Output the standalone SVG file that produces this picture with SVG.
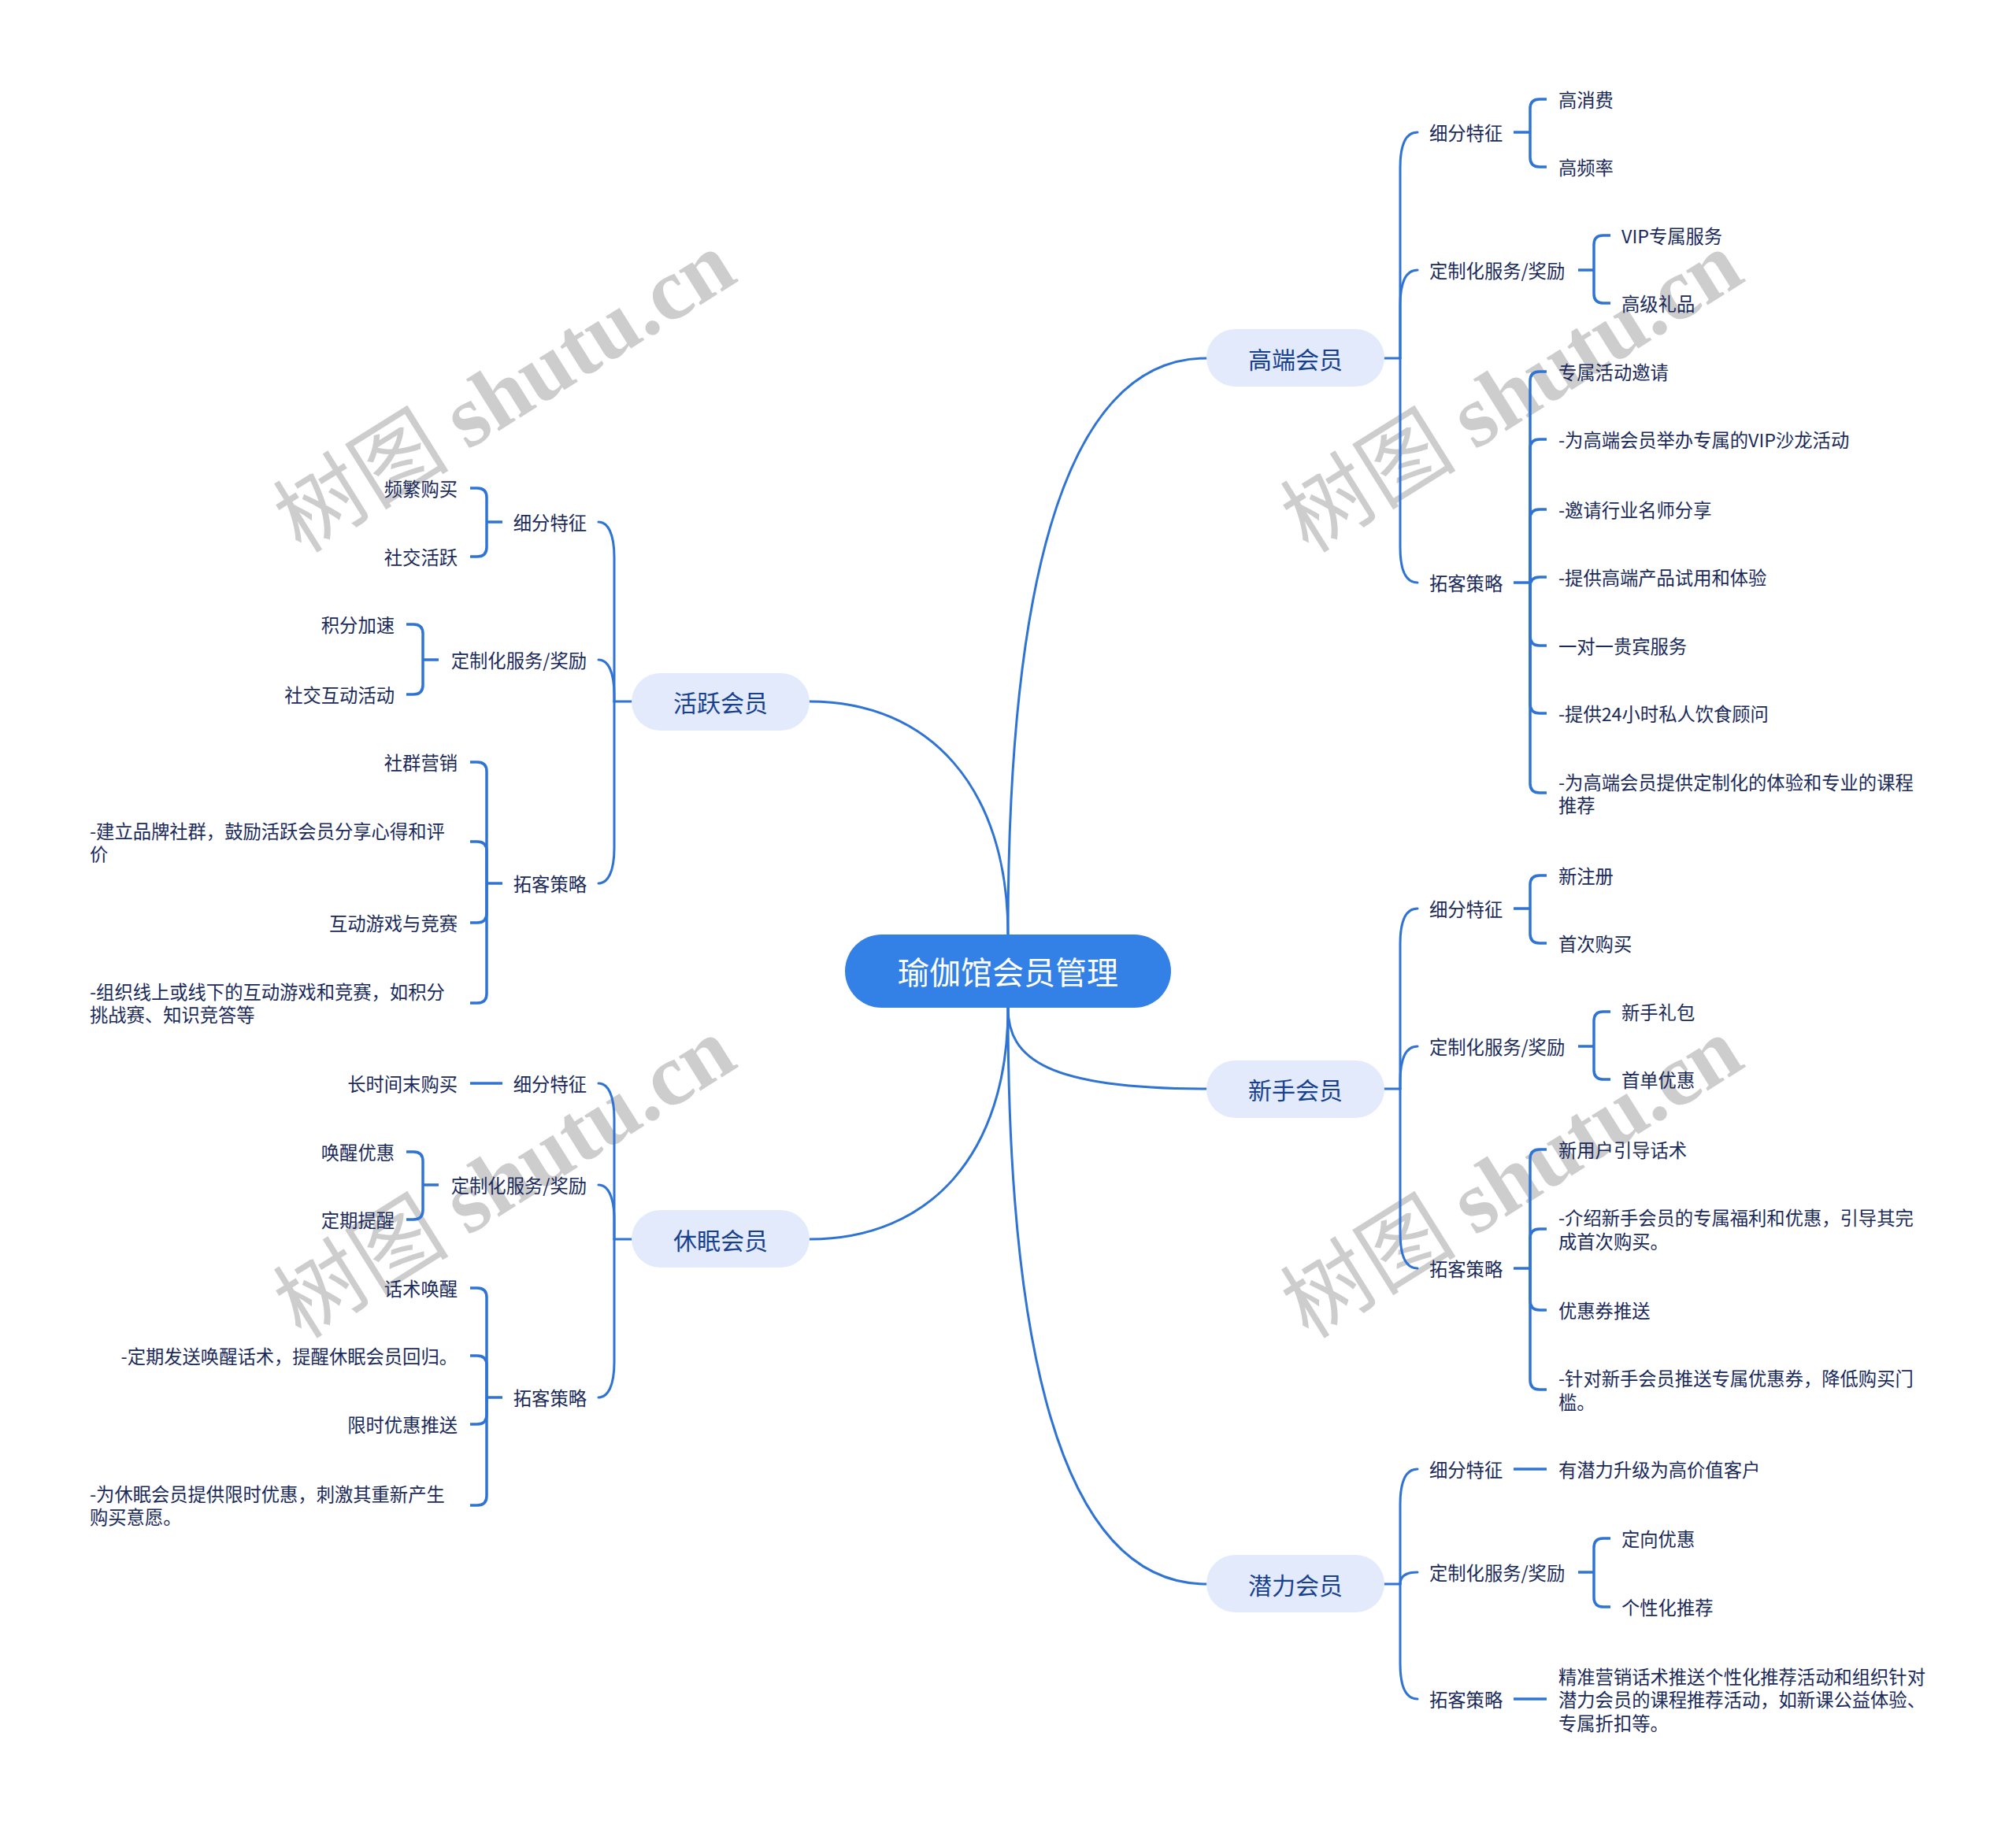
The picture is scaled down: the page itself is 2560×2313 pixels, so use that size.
<svg xmlns="http://www.w3.org/2000/svg" width="2560" height="2313" viewBox="0 0 2560 2313">
<style>
.wm{font-family:"Noto Sans CJK SC","Liberation Serif",serif;font-size:112px;fill:#cdcdcd}
.wm2{font-family:"Liberation Serif",serif;font-weight:bold}
.c{fill:none;stroke:#2f74d4;stroke-width:3;stroke-linecap:round}
.b{fill:none;stroke:#2f74d4;stroke-width:3.5;stroke-linecap:butt}
.root rect{fill:#3381e6}
.root text{font-family:"Noto Sans CJK SC","Noto Sans",sans-serif;font-size:40px;fill:#ffffff;text-anchor:middle;dominant-baseline:central}
.l1 rect{fill:#e2eafb}
.l1 text{font-family:"Noto Sans CJK SC","Noto Sans",sans-serif;font-size:30px;fill:#17418f;text-anchor:middle;dominant-baseline:central}
.t{font-family:"Noto Sans CJK SC","Noto Sans",sans-serif;font-size:23.3px;fill:#1a2a5a;dominant-baseline:central}
.e{text-anchor:end}
</style>
<rect width="2560" height="2313" fill="#ffffff"/>
<g id="watermarks">
<text class="wm" x="661" y="530" text-anchor="middle" transform="rotate(-32 661 530)">树图 <tspan class="wm2">shutu.cn</tspan></text>
<text class="wm" x="1940" y="530" text-anchor="middle" transform="rotate(-32 1940 530)">树图 <tspan class="wm2">shutu.cn</tspan></text>
<text class="wm" x="661" y="1528" text-anchor="middle" transform="rotate(-32 661 1528)">树图 <tspan class="wm2">shutu.cn</tspan></text>
<text class="wm" x="1940" y="1528" text-anchor="middle" transform="rotate(-32 1940 1528)">树图 <tspan class="wm2">shutu.cn</tspan></text>
</g>
<g id="connectors">
<path class="c" d="M1280,1187 C1280,780 1340,455 1532,455"/>
<path class="c" d="M1280,1280 C1280,1345 1330,1383 1532,1383"/>
<path class="c" d="M1280,1280 C1280,1690 1340,2012 1532,2012"/>
<path class="c" d="M1028,891 C1180,891 1280,1000 1280,1187"/>
<path class="c" d="M1028,1574 C1180,1574 1280,1467 1280,1280"/>
<path class="c" d="M1758,455 H1778"/>
<path class="c" d="M1778,455 L1778,213 C1778,183 1786,168 1800,168"/>
<path class="c" d="M1778,455 L1778,388 C1778,358 1786,343 1800,343"/>
<path class="c" d="M1778,455 L1778,695 C1778,725 1786,740 1800,740"/>
<path class="b" d="M1922,168 H1943"/>
<path class="b" d="M1943,168 V138 Q1943,126 1955,126 H1964"/>
<path class="b" d="M1943,168 V200 Q1943,212 1955,212 H1964"/>
<path class="b" d="M2004,343 H2024"/>
<path class="b" d="M2024,343 V311 Q2024,299 2036,299 H2045"/>
<path class="b" d="M2024,343 V373 Q2024,385 2036,385 H2045"/>
<path class="b" d="M1922,740 H1943"/>
<path class="b" d="M1943,740 V484 Q1943,472 1955,472 H1964"/>
<path class="b" d="M1943,740 V570 Q1943,558 1955,558 H1964"/>
<path class="b" d="M1943,740 V659 Q1943,647 1955,647 H1964"/>
<path class="b" d="M1943,740 V745 Q1943,733 1955,733 H1964"/>
<path class="b" d="M1943,740 V808 Q1943,820 1955,820 H1964"/>
<path class="b" d="M1943,740 V894 Q1943,906 1955,906 H1964"/>
<path class="b" d="M1943,740 V995 Q1943,1007 1955,1007 H1964"/>
<path class="c" d="M1758,1383 H1778"/>
<path class="c" d="M1778,1383 L1778,1199 C1778,1169 1786,1154 1800,1154"/>
<path class="c" d="M1778,1383 L1778,1374 C1778,1344 1786,1329 1800,1329"/>
<path class="c" d="M1778,1383 L1778,1566 C1778,1596 1786,1611 1800,1611"/>
<path class="b" d="M1922,1154 H1943"/>
<path class="b" d="M1943,1154 V1124 Q1943,1112 1955,1112 H1964"/>
<path class="b" d="M1943,1154 V1186 Q1943,1198 1955,1198 H1964"/>
<path class="b" d="M2004,1329 H2024"/>
<path class="b" d="M2024,1329 V1297 Q2024,1285 2036,1285 H2045"/>
<path class="b" d="M2024,1329 V1359 Q2024,1371 2036,1371 H2045"/>
<path class="b" d="M1922,1611 H1943"/>
<path class="b" d="M1943,1611 V1472 Q1943,1460 1955,1460 H1964"/>
<path class="b" d="M1943,1611 V1573 Q1943,1561 1955,1561 H1964"/>
<path class="b" d="M1943,1611 V1652 Q1943,1664 1955,1664 H1964"/>
<path class="b" d="M1943,1611 V1753 Q1943,1765 1955,1765 H1964"/>
<path class="c" d="M1758,2012 H1778"/>
<path class="c" d="M1778,2012 L1778,1911 C1778,1881 1786,1866 1800,1866"/>
<path class="c" d="M1778,2012 C1778,2002 1786,1997 1800,1997"/>
<path class="c" d="M1778,2012 L1778,2113 C1778,2143 1786,2158 1800,2158"/>
<path class="b" d="M1922,1866 H1964"/>
<path class="b" d="M2004,1997 H2024"/>
<path class="b" d="M2024,1997 V1966 Q2024,1954 2036,1954 H2045"/>
<path class="b" d="M2024,1997 V2029 Q2024,2041 2036,2041 H2045"/>
<path class="b" d="M1922,2158 H1964"/>
<path class="c" d="M802,891 H780"/>
<path class="c" d="M780,891 L780,708 C780,678 772,663 760,663"/>
<path class="c" d="M780,891 L780,883 C780,853 772,838 760,838"/>
<path class="c" d="M780,891 L780,1077 C780,1107 772,1122 760,1122"/>
<path class="b" d="M638,663 H618"/>
<path class="b" d="M618,663 V632 Q618,620 606,620 H597"/>
<path class="b" d="M618,663 V695 Q618,707 606,707 H597"/>
<path class="b" d="M557,838 H537"/>
<path class="b" d="M537,838 V805 Q537,793 525,793 H516"/>
<path class="b" d="M537,838 V870 Q537,882 525,882 H516"/>
<path class="b" d="M638,1122 H618"/>
<path class="b" d="M618,1122 V980 Q618,968 606,968 H597"/>
<path class="b" d="M618,1122 V1081 Q618,1069 606,1069 H597"/>
<path class="b" d="M618,1122 V1160 Q618,1172 606,1172 H597"/>
<path class="b" d="M618,1122 V1262 Q618,1274 606,1274 H597"/>
<path class="c" d="M802,1574 H780"/>
<path class="c" d="M780,1574 L780,1421 C780,1391 772,1376 760,1376"/>
<path class="c" d="M780,1574 L780,1550 C780,1520 772,1505 760,1505"/>
<path class="c" d="M780,1574 L780,1730 C780,1760 772,1775 760,1775"/>
<path class="b" d="M638,1376 H597"/>
<path class="b" d="M557,1505 H537"/>
<path class="b" d="M537,1505 V1475 Q537,1463 525,1463 H516"/>
<path class="b" d="M537,1505 V1537 Q537,1549 525,1549 H516"/>
<path class="b" d="M638,1775 H618"/>
<path class="b" d="M618,1775 V1648 Q618,1636 606,1636 H597"/>
<path class="b" d="M618,1775 V1734 Q618,1722 606,1722 H597"/>
<path class="b" d="M618,1775 V1797 Q618,1809 606,1809 H597"/>
<path class="b" d="M618,1775 V1900 Q618,1912 606,1912 H597"/>
</g>
<g id="root" class="root">
<rect x="1073" y="1187" width="414" height="93" rx="46.5"/>
<text x="1280" y="1233">瑜伽馆会员管理</text>
</g>
<g id="n-gaoduan" class="l1">
<rect x="1532" y="418" width="226" height="73" rx="36.5"/>
<text x="1645" y="455">高端会员</text>
</g>
<g id="n-xinshou" class="l1">
<rect x="1532" y="1347" width="226" height="73" rx="36.5"/>
<text x="1645" y="1383">新手会员</text>
</g>
<g id="n-qianli" class="l1">
<rect x="1532" y="1975" width="226" height="73" rx="36.5"/>
<text x="1645" y="2012">潜力会员</text>
</g>
<g id="n-huoyue" class="l1">
<rect x="802" y="855" width="226" height="73" rx="36.5"/>
<text x="915" y="891">活跃会员</text>
</g>
<g id="n-xiumian" class="l1">
<rect x="802" y="1537" width="226" height="73" rx="36.5"/>
<text x="915" y="1574">休眠会员</text>
</g>
<g id="gaoduan-children">
<text class="t" x="1815" y="168">细分特征</text>
<text class="t" x="1979" y="126">高消费</text>
<text class="t" x="1979" y="212">高频率</text>
<text class="t" x="1815" y="343">定制化服务/奖励</text>
<text class="t" x="2059" y="299">VIP专属服务</text>
<text class="t" x="2059" y="385">高级礼品</text>
<text class="t" x="1815" y="740">拓客策略</text>
<text class="t" x="1979" y="472">专属活动邀请</text>
<text class="t" x="1979" y="558">-为高端会员举办专属的VIP沙龙活动</text>
<text class="t" x="1979" y="647">-邀请行业名师分享</text>
<text class="t" x="1979" y="733">-提供高端产品试用和体验</text>
<text class="t" x="1979" y="820">一对一贵宾服务</text>
<text class="t" x="1979" y="906">-提供24小时私人饮食顾问</text>
<text class="t" x="1979" y="993">-为高端会员提供定制化的体验和专业的课程</text>
<text class="t" x="1979" y="1022">推荐</text>
</g>
<g id="xinshou-children">
<text class="t" x="1815" y="1154">细分特征</text>
<text class="t" x="1979" y="1112">新注册</text>
<text class="t" x="1979" y="1198">首次购买</text>
<text class="t" x="1815" y="1329">定制化服务/奖励</text>
<text class="t" x="2059" y="1285">新手礼包</text>
<text class="t" x="2059" y="1371">首单优惠</text>
<text class="t" x="1815" y="1611">拓客策略</text>
<text class="t" x="1979" y="1460">新用户引导话术</text>
<text class="t" x="1979" y="1546">-介绍新手会员的专属福利和优惠，引导其完</text>
<text class="t" x="1979" y="1576">成首次购买。</text>
<text class="t" x="1979" y="1664">优惠券推送</text>
<text class="t" x="1979" y="1750">-针对新手会员推送专属优惠券，降低购买门</text>
<text class="t" x="1979" y="1780">槛。</text>
</g>
<g id="qianli-children">
<text class="t" x="1815" y="1866">细分特征</text>
<text class="t" x="1979" y="1866">有潜力升级为高价值客户</text>
<text class="t" x="1815" y="1997">定制化服务/奖励</text>
<text class="t" x="2059" y="1954">定向优惠</text>
<text class="t" x="2059" y="2041">个性化推荐</text>
<text class="t" x="1815" y="2158">拓客策略</text>
<text class="t" x="1979" y="2129">精准营销话术推送个性化推荐活动和组织针对</text>
<text class="t" x="1979" y="2158">潜力会员的课程推荐活动，如新课公益体验、</text>
<text class="t" x="1979" y="2188">专属折扣等。</text>
</g>
<g id="huoyue-children">
<text class="t e" x="745" y="663">细分特征</text>
<text class="t e" x="581" y="620">频繁购买</text>
<text class="t e" x="581" y="707">社交活跃</text>
<text class="t e" x="745" y="838">定制化服务/奖励</text>
<text class="t e" x="501" y="793">积分加速</text>
<text class="t e" x="501" y="882">社交互动活动</text>
<text class="t e" x="745" y="1122">拓客策略</text>
<text class="t e" x="581" y="968">社群营销</text>
<text class="t" x="114" y="1055">-建立品牌社群，鼓励活跃会员分享心得和评</text>
<text class="t" x="114" y="1084">价</text>
<text class="t e" x="581" y="1172">互动游戏与竞赛</text>
<text class="t" x="114" y="1259">-组织线上或线下的互动游戏和竞赛，如积分</text>
<text class="t" x="114" y="1288">挑战赛、知识竞答等</text>
</g>
<g id="xiumian-children">
<text class="t e" x="745" y="1376">细分特征</text>
<text class="t e" x="581" y="1376">长时间末购买</text>
<text class="t e" x="745" y="1505">定制化服务/奖励</text>
<text class="t e" x="501" y="1463">唤醒优惠</text>
<text class="t e" x="501" y="1549">定期提醒</text>
<text class="t e" x="745" y="1775">拓客策略</text>
<text class="t e" x="581" y="1636">话术唤醒</text>
<text class="t e" x="581" y="1722">-定期发送唤醒话术，提醒休眠会员回归。</text>
<text class="t e" x="581" y="1809">限时优惠推送</text>
<text class="t" x="114" y="1897">-为休眠会员提供限时优惠，刺激其重新产生</text>
<text class="t" x="114" y="1926">购买意愿。</text>
</g>
</svg>
